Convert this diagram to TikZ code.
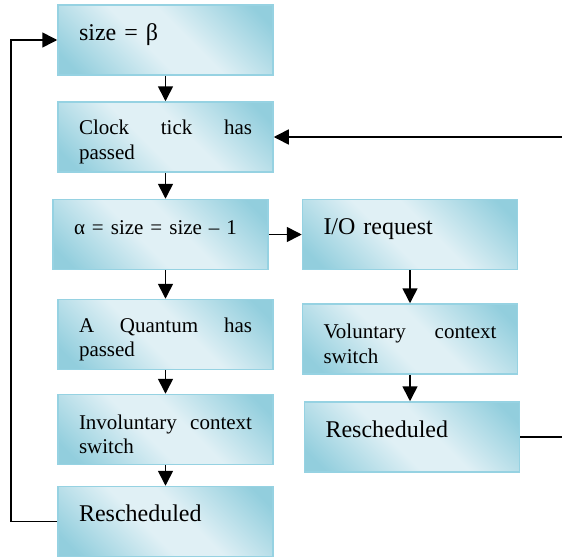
\documentclass[tikz,border=0pt]{standalone}
\usepackage{fontspec}
\setmainfont{Liberation Serif}
\usetikzlibrary{arrows.meta}

\definecolor{boxdark}{RGB}{146,206,221}
\definecolor{boxlight}{RGB}{224,240,245}
\definecolor{boxedge}{RGB}{150,210,226}
\pgfdeclarehorizontalshading{boxfill}{100bp}{color(0bp)=(boxdark); color(20bp)=(boxdark); color(44bp)=(boxlight); color(56bp)=(boxlight); color(80bp)=(boxdark); color(100bp)=(boxdark)}

\begin{document}
\begin{tikzpicture}[x=1pt, y=-1pt, >={Triangle[length=15pt,width=15pt]}, line width=1.6pt,
	flow/.style={draw=boxedge, line width=1.5pt, shading=boxfill, shading angle=45, minimum width=215pt, minimum height=70pt, text width=173pt, inner xsep=21pt, align=justify, text height=24pt, font=\fontsize{21}{24.5}\selectfont},
	oneline/.style={flow, align=left, text height=10pt, text depth=10pt, font=\fontsize{24}{28}\selectfont}]
	\useasboundingbox (0,0) rectangle (562,557);
	% left column
	\node[oneline] (size) at (165.5,40) {size = β};
	\node[flow] (tick) at (165.5,137) {Clock tick has passed};
	\node[oneline, font=\fontsize{21}{24.5}\selectfont] (dec) at (160.5,234.5) {\mbox{α = size = size – 1}};
	\node[flow] (quantum) at (165.5,334.5) {A Quantum has passed};
	\node[flow] (invol) at (165.5,429.5) {Involuntary context switch};
	\node[oneline] (resched) at (165.5,521.5) {Rescheduled};
	% right column
	\node[oneline] (io) at (410,234.5) {I/O request};
	\node[flow] (vol) at (410,339) {Voluntary context switch};
	\node[oneline] (resched2) at (412,437) {Rescheduled};
	\coordinate (feedin) at (566,137);
	\coordinate (feedout) at (566,437);
	\draw[->] (size) -- (size |- tick.north);
	\draw[->] (tick) -- (tick |- dec.north);
	\draw[->] (quantum |- dec.south) -- (quantum);
	\draw[->] (quantum) -- (invol);
	\draw[->] (invol) -- (resched);
	\draw[->] (dec) -- (io);
	\draw[->] (io) -- (vol);
	\draw[->] (vol) -- (vol |- resched2.north);
	\draw[->] (resched.west) -- ++(-46,0) |- (size.west);
	\draw[->] (feedin) -- (tick.east);
	\draw (resched2.east) -- (feedout);
\end{tikzpicture}
\end{document}
